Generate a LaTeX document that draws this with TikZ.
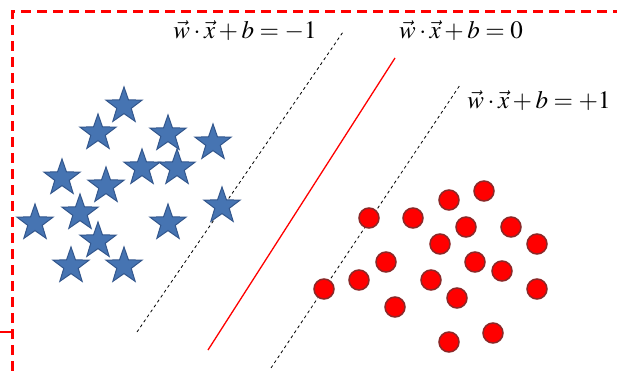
\documentclass[tikz,border=0pt]{standalone}
\usepackage{amsmath}
\usepackage{mathptmx}
\usetikzlibrary{shapes.geometric}

\definecolor{starblue}{RGB}{70,116,178}
\definecolor{stardark}{RGB}{50,86,140}
\definecolor{dotred}{RGB}{255,0,0}
\definecolor{dotdark}{RGB}{140,40,40}

\begin{document}
\begin{tikzpicture}[x=1pt, y=-1pt,
    sample/.style={star, star points=5, star point ratio=2.5, draw=stardark,
      fill=starblue, line width=1pt, inner sep=0pt, minimum size=38pt},
    dot/.style={circle, draw=dotdark, fill=dotred, line width=1.5pt,
      inner sep=0pt, minimum size=20pt},
    margin/.style={dashed, line width=0.8pt},
    plane/.style={red, line width=1.3pt},
    eqn/.style={font=\fontsize{25}{29}\selectfont, inner sep=0pt}]

    \useasboundingbox (0,0) rectangle (617,371);
    % Frame
    \draw[red, line width=3pt, dash pattern=on 10pt off 6pt]
      (12,371) -- (12,12) -- (617,12);
    \draw[red, line width=2pt] (0,332) -- (12,332);

    % Ends of the hyperplanes
    \coordinate (m1a) at (137,332);
    \coordinate (m1b) at (343,32);
    \coordinate (h0a) at (208,350);
    \coordinate (h0b) at (395,58);
    \coordinate (m2a) at (271,368);
    \coordinate (m2b) at (460,85);
    \draw[margin] (m1a) -- (m1b);
    \draw[plane] (h0a) -- (h0b);
    \draw[margin] (m2a) -- (m2b);

    % Labels
    \node[eqn] (lneg) at (245,31) {$\vec{w}\cdot\vec{x}+b=-1$};
    \node[eqn] (lzero) at (461,31) {$\vec{w}\cdot\vec{x}+b=0$};
    \node[eqn] (lpos) at (539,101) {$\vec{w}\cdot\vec{x}+b=+1$};

    % Class A: stars
    \node[sample] (s1) at (124,106) {};
    \node[sample] (s2) at (98,133) {};
    \node[sample] (s3) at (168,134) {};
    \node[sample] (s4) at (213,143) {};
    \node[sample] (s5) at (142,168) {};
    \node[sample] (s6) at (177,168) {};
    \node[sample] (s7) at (62,178) {};
    \node[sample] (s8) at (106,186) {};
    \node[sample] (s9) at (80,213) {};
    \node[sample] (s10) at (35,223) {};
    \node[sample] (s11) at (222,206) {};
    \node[sample] (s12) at (168,223) {};
    \node[sample] (s13) at (98,241) {};
    \node[sample] (s14) at (71,266) {};
    \node[sample] (s15) at (124,266) {};

    % Class B: dots
    \node[dot] (c1) at (484,191) {};
    \node[dot] (c2) at (449,200) {};
    \node[dot] (c3) at (369,218) {};
    \node[dot] (c4) at (413,218) {};
    \node[dot] (c5) at (466,227) {};
    \node[dot] (c6) at (511,227) {};
    \node[dot] (c7) at (440,244) {};
    \node[dot] (c8) at (537,244) {};
    \node[dot] (c9) at (386,262) {};
    \node[dot] (c10) at (475,262) {};
    \node[dot] (c11) at (502,271) {};
    \node[dot] (c12) at (359,280) {};
    \node[dot] (c13) at (324,289) {};
    \node[dot] (c14) at (431,280) {};
    \node[dot] (c15) at (457,298) {};
    \node[dot] (c16) at (537,289) {};
    \node[dot] (c17) at (395,307) {};
    \node[dot] (c18) at (449,342) {};
    \node[dot] (c19) at (493,333) {};
\end{tikzpicture}
\end{document}
